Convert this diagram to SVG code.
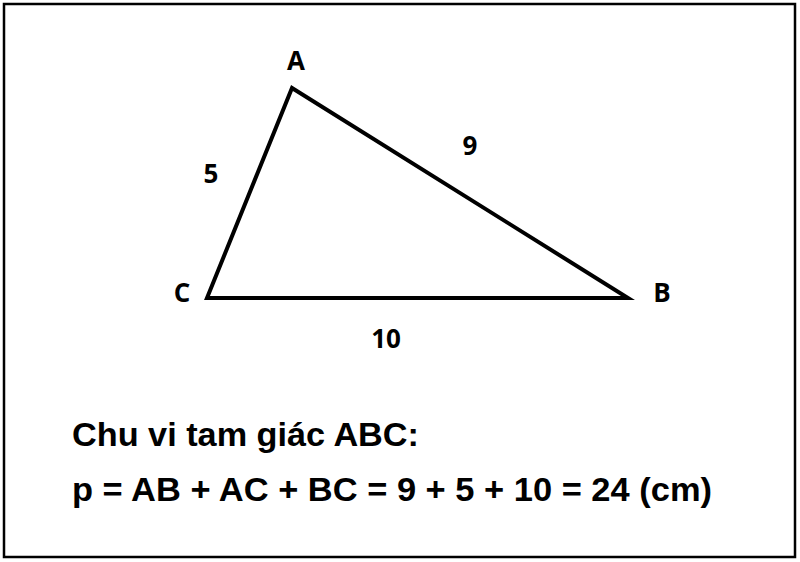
<svg xmlns="http://www.w3.org/2000/svg" width="800" height="562" viewBox="0 0 800 562">
<style>
.lbl{font-family:"Open Sans","Liberation Sans",sans-serif;font-weight:700;font-size:26px;fill:#000;text-anchor:middle}
.txt{font-family:"Liberation Sans",Arial,sans-serif;font-weight:700;font-size:33px;fill:#000}
.edge{fill:none;stroke:#000;stroke-width:4;stroke-linejoin:miter;stroke-miterlimit:10}
</style>
<rect x="0" y="0" width="800" height="562" fill="#fff"/>
<rect x="4" y="4" width="791" height="553" fill="none" stroke="#000" stroke-width="2.5"/>
<g id="connectors">
<polygon class="edge" points="292,88 628,298 207,298"/>
</g>
<g id="A"><text class="lbl" x="296" y="70">A</text></g>
<g id="B"><text class="lbl" x="662" y="302">B</text></g>
<g id="C"><text class="lbl" x="182" y="302">C</text></g>
<g id="label-AC"><text class="lbl" x="211" y="183">5</text></g>
<g id="label-AB"><text class="lbl" x="470" y="155">9</text></g>
<g id="label-BC"><text class="lbl" x="386" y="348">10</text></g>
<g id="formula">
<text class="txt" x="72" y="446" textLength="347" lengthAdjust="spacingAndGlyphs">Chu vi tam giác ABC:</text>
<text class="txt" x="72" y="501" textLength="640" lengthAdjust="spacingAndGlyphs">p = AB + AC + BC = 9 + 5 + 10 = 24 (cm)</text>
</g>
</svg>
